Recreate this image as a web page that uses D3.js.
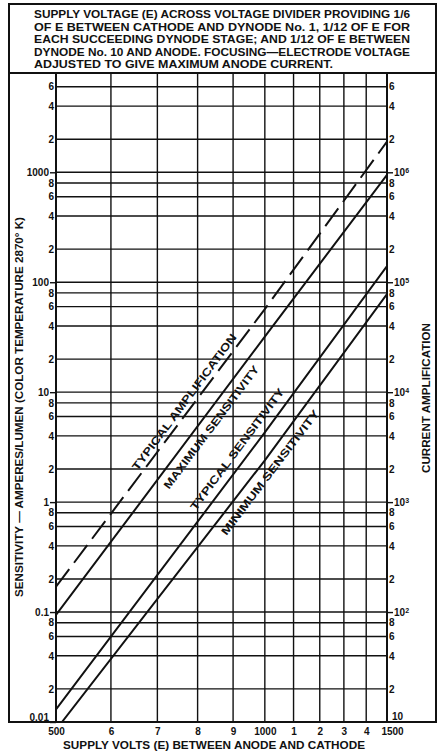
<!DOCTYPE html>
<html>
<head>
<meta charset="utf-8">
<script src="https://cdn.jsdelivr.net/npm/d3@7"></script>
<style>
body { margin: 0; background: #fff; }
svg { display: block; font-family: "Liberation Sans", Arial, sans-serif; font-weight: bold; }
.grid line { stroke: #111; stroke-width: 1.4; }
.axis path { display: none; }
.axis text { fill: #111; font-size: 10px; }
</style>
</head>
<body>
<svg id="chart" width="443" height="753"></svg>
<script>
// supply volts (x, log)
var voltTicks = [500, 600, 700, 800, 900, 1000, 1100, 1200, 1300, 1400, 1500];
var voltLabels = ["500", "6", "7", "8", "9", "1000", "1", "2", "3", "4", "1500"];

// sensitivity, amperes/lumen (left, log)
var sensTicks = [0.01, 0.02, 0.04, 0.06, 0.08, 0.1, 0.2, 0.4, 0.6, 0.8, 1, 2, 4, 6, 8,
  10, 20, 40, 60, 80, 100, 200, 400, 600, 800, 1000, 2000, 4000, 6000];
var sensLabels = ["0.01", "2", "4", "6", "8", "0.1", "2", "4", "6", "8", "1", "2", "4", "6", "8",
  "10", "2", "4", "6", "8", "100", "2", "4", "6", "8", "1000", "2", "4", "6"];

// current amplification (right, log)
var ampTicks = [10, 20, 40, 60, 80, 1e2, 2e2, 4e2, 6e2, 8e2, 1e3, 2e3, 4e3, 6e3, 8e3,
  1e4, 2e4, 4e4, 6e4, 8e4, 1e5, 2e5, 4e5, 6e5, 8e5, 1e6, 2e6, 4e6, 6e6];
var ampLabels = ["10", "2", "4", "6", "8", "10^2", "2", "4", "6", "8", "10^3", "2", "4", "6", "8",
  "10^4", "2", "4", "6", "8", "10^5", "2", "4", "6", "8", "10^6", "2", "4", "6"];

// curves: [volts, value]
var typicalAmplification = [[500, 170], [1000, 5.7e4], [1500, 1.9e6]];
var maximumSensitivity = [[500, 0.094], [1000, 32], [1500, 950]];
var typicalSensitivity = [[500, 0.013], [1000, 4.3], [1500, 140]];
var minimumSensitivity = [[510, 0.01], [1000, 2.4], [1500, 78]];

var noteLines = [
  "SUPPLY VOLTAGE (E) ACROSS VOLTAGE DIVIDER PROVIDING 1/6",
  "OF E BETWEEN CATHODE AND DYNODE No. 1, 1/12 OF E FOR",
  "EACH SUCCEEDING DYNODE STAGE; AND 1/12 OF E BETWEEN",
  "DYNODE No. 10 AND ANODE. FOCUSING\u2014ELECTRODE VOLTAGE",
  "ADJUSTED TO GIVE MAXIMUM ANODE CURRENT."
];

var pLeft = 56, pRight = 387, pTop = 73, pBottom = 722;

var svg = d3.select("#chart");
var x = d3.scaleLog().domain([500, 1500]).range([pLeft, pRight]);
var y = d3.scaleLog().domain([0.01, 8000]).range([pBottom, pTop]);
var y2 = d3.scaleLog().domain([10, 8e6]).range([pBottom, pTop]);

// outer frame and note box
svg.append("rect")
  .attr("x", 9).attr("y", 4).attr("width", 427).attr("height", pBottom - 4)
  .attr("fill", "none").attr("stroke", "#111").attr("stroke-width", 2);
svg.append("line")
  .attr("x1", 9).attr("x2", 436).attr("y1", pTop).attr("y2", pTop)
  .attr("stroke", "#111").attr("stroke-width", 2);

svg.append("g").selectAll("text")
  .data(noteLines)
  .enter().append("text")
  .attr("x", 34)
  .attr("y", function(d, i) { return 18 + i * 12.6; })
  .attr("font-size", 11.5)
  .attr("textLength", function(d, i) { return i == 4 ? 299 : 376; })
  .attr("lengthAdjust", "spacingAndGlyphs")
  .attr("fill", "#111")
  .text(function(d) { return d; });

// grid
var grid = svg.append("g").attr("class", "grid");
grid.selectAll(".h").data(sensTicks).enter().append("line")
  .attr("x1", pLeft).attr("x2", pRight)
  .attr("y1", function(d) { return y(d); }).attr("y2", function(d) { return y(d); });
grid.selectAll(".v").data(voltTicks).enter().append("line")
  .attr("y1", pTop).attr("y2", pBottom)
  .attr("x1", function(d) { return x(d); }).attr("x2", function(d) { return x(d); });

// plot border
svg.append("rect")
  .attr("x", pLeft).attr("y", pTop).attr("width", pRight - pLeft).attr("height", pBottom - pTop)
  .attr("fill", "none").attr("stroke", "#111").attr("stroke-width", 2);

// axes
var xAxis = svg.append("g").attr("class", "axis")
  .attr("transform", "translate(0," + pBottom + ")")
  .call(d3.axisBottom(x).tickValues(voltTicks).tickSize(0).tickPadding(6)
    .tickFormat(function(d, i) { return voltLabels[i]; }));
xAxis.selectAll("line").remove();
xAxis.selectAll("text").attr("dx", function(d) { return d == 1500 ? 5 : 0; });

function isDecade(v) {
  var e = Math.log10(v);
  return Math.abs(e - Math.round(e)) < 1e-9;
}

var yAxis = svg.append("g").attr("class", "axis")
  .attr("transform", "translate(" + pLeft + ",0)")
  .call(d3.axisLeft(y).tickValues(sensTicks).tickSize(0).tickPadding(2)
    .tickFormat(function(d, i) { return sensLabels[i]; }));
yAxis.selectAll(".tick").each(function(d, i) {
  var t = d3.select(this);
  if (isDecade(d)) {
    t.select("line").attr("x2", -6).attr("stroke", "#111").attr("stroke-width", 1.4);
    t.select("text").attr("x", -7);
  }
  if (i == 0) t.select("text").attr("dy", "-0.15em");
});

var y2Axis = svg.append("g").attr("class", "axis")
  .attr("transform", "translate(" + pRight + ",0)")
  .call(d3.axisRight(y2).tickValues(ampTicks).tickSize(0).tickPadding(2)
    .tickFormat(function(d, i) { return ampLabels[i]; }));
y2Axis.selectAll(".tick").each(function(d, i) {
  var t = d3.select(this);
  var parts = ampLabels[i].split("^");
  if (isDecade(d)) {
    t.select("line").attr("x2", 6).attr("stroke", "#111").attr("stroke-width", 1.4);
    var txt = t.select("text").attr("x", 7).text(parts[0]);
    if (parts[1]) {
      txt.append("tspan").attr("dy", "-0.45em").attr("font-size", 7).text(parts[1]);
    }
  }
  if (i == 0) {
    t.select("line").remove();
    t.select("text").attr("x", 5).attr("dy", "-0.25em");
  }
});

// titles
svg.append("text")
  .attr("transform", "translate(19,407) rotate(-90)")
  .attr("text-anchor", "middle").attr("dy", "0.35em")
  .attr("font-size", 10).attr("fill", "#111")
  .attr("textLength", 380).attr("lengthAdjust", "spacingAndGlyphs")
  .text("SENSITIVITY \u2014 AMPERES/LUMEN (COLOR TEMPERATURE 2870\u00b0 K)");

svg.append("text")
  .attr("transform", "translate(426,398) rotate(-90)")
  .attr("text-anchor", "middle").attr("dy", "0.35em")
  .attr("font-size", 10).attr("fill", "#111")
  .attr("textLength", 150).attr("lengthAdjust", "spacingAndGlyphs")
  .text("CURRENT AMPLIFICATION");

svg.append("text")
  .attr("x", 214).attr("y", 749)
  .attr("text-anchor", "middle")
  .attr("font-size", 10.5).attr("fill", "#111")
  .attr("textLength", 302).attr("lengthAdjust", "spacingAndGlyphs")
  .text("SUPPLY VOLTS (E) BETWEEN ANODE AND CATHODE");

// curves
svg.append("clipPath").attr("id", "plot-clip")
  .append("rect").attr("x", pLeft).attr("y", pTop)
  .attr("width", pRight - pLeft).attr("height", pBottom - pTop);

var curves = [
  { data: typicalAmplification, scale: y2, dash: "22,8", text: "TYPICAL AMPLIFICATION", at: 783, off: -8.5, len: 167 },
  { data: maximumSensitivity, scale: y, dash: null, text: "MAXIMUM SENSITIVITY", at: 812, off: 11.5, len: 151 },
  { data: typicalSensitivity, scale: y, dash: null, text: "TYPICAL SENSITIVITY", at: 942, off: -12, len: 149 },
  { data: minimumSensitivity, scale: y, dash: null, text: "MINIMUM SENSITIVITY", at: 987, off: 11.5, len: 154 }
];

var plot = svg.append("g").attr("clip-path", "url(#plot-clip)");

curves.forEach(function(c) {
  var line = d3.line()
    .x(function(d) { return x(d[0]); })
    .y(function(d) { return c.scale(d[1]); });
  plot.append("path")
    .attr("d", line(c.data))
    .attr("fill", "none").attr("stroke", "#111").attr("stroke-width", 2)
    .attr("stroke-dasharray", c.dash);

  // label along the curve
  var first = c.data[0], last = c.data[c.data.length - 1];
  var ang = Math.atan2(c.scale(last[1]) - c.scale(first[1]), x(last[0]) - x(first[0])) * 180 / Math.PI;
  var yAt = d3.scaleLinear()
    .domain(c.data.map(function(d) { return Math.log(d[0]); }))
    .range(c.data.map(function(d) { return c.scale(d[1]); }));
  var cx = x(c.at), cy = yAt(Math.log(c.at));
  svg.append("text")
    .attr("transform", "translate(" + cx + "," + cy + ") rotate(" + ang + ")")
    .attr("y", c.off).attr("dy", "0.35em")
    .attr("text-anchor", "middle")
    .attr("font-size", 11).attr("fill", "#111")
    .attr("textLength", c.len).attr("lengthAdjust", "spacingAndGlyphs")
    .text(c.text);
});
</script>
</body>
</html>
